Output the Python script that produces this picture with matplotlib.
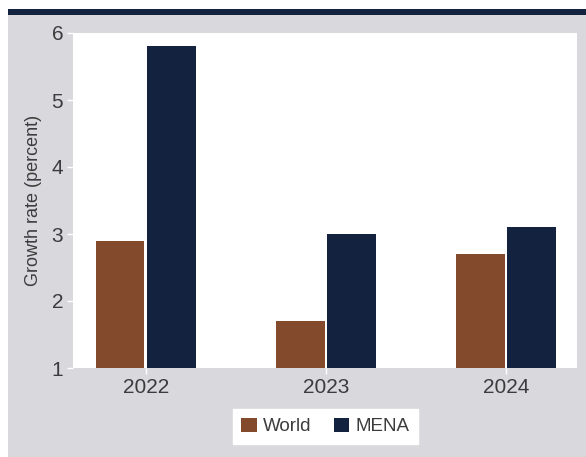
import matplotlib
matplotlib.use("Agg")
import matplotlib.pyplot as plt
from matplotlib.patches import Rectangle
import numpy as np

plt.rcParams['font.family'] = ['Liberation Sans', 'DejaVu Sans']

years = ["2022", "2023", "2024"]
world = [2.9, 1.7, 2.7]
mena = [5.8, 3.0, 3.1]
series_names = ["World", "MENA"]

BROWN = "#844a2c"
NAVY = "#12223f"
GRAY = "#d9d8dd"
TEXT = "#3c3c3c"

W, H = 586, 457
fig = plt.figure(figsize=(W / 100, H / 100), dpi=100, facecolor="white")

# panel background and top rule
fig.patches.append(Rectangle((8 / W, 0), 1 - 8 / W, (H - 15) / H,
                             transform=fig.transFigure, facecolor=GRAY,
                             edgecolor="none", zorder=-10))
fig.patches.append(Rectangle((8 / W, (H - 15) / H), 1 - 8 / W, 6 / H,
                             transform=fig.transFigure, facecolor=NAVY,
                             edgecolor="none", zorder=-10))

left, right, top, bottom = 73, 577, 33, 368
ax = fig.add_axes([left / W, 1 - bottom / H, (right - left) / W, (bottom - top) / H])
ax.set_zorder(1)
ax.set_facecolor("white")

x = np.arange(len(years))
off, wid = 0.142, 0.268
ax.bar(x - off, np.array(world) - 1, wid, bottom=1, color=BROWN, label=series_names[0])
ax.bar(x + off, np.array(mena) - 1, wid, bottom=1, color=NAVY, label=series_names[1])

ax.set_xlim(-0.405, 2.394)
ax.set_ylim(1, 6)
ax.set_yticks([1, 2, 3, 4, 5, 6])
ax.set_xticks(x)
ax.set_xticklabels(years)
for s in ax.spines.values():
    s.set_visible(False)
ax.tick_params(axis="both", colors="white", labelcolor=TEXT, labelsize=15,
               length=4, width=1)
ax.tick_params(axis="y", pad=3)
ax.tick_params(axis="x", pad=3)
ax.set_ylabel("Growth rate (percent)", fontsize=13, color=TEXT, labelpad=7)

leg = fig.legend(loc="center", bbox_to_anchor=(325 / W, 1 - 426.5 / H), ncol=2,
                 frameon=True, fancybox=False, fontsize=13.5, handlelength=0.85,
                 handleheight=0.85, handletextpad=0.3, columnspacing=1.2,
                 borderpad=0.45)
leg.set_zorder(2)
leg.get_frame().set_facecolor("white")
leg.get_frame().set_edgecolor("white")
leg.get_frame().set_alpha(1)
for t in leg.get_texts():
    t.set_color(TEXT)

fig.savefig("out.png", dpi=100, facecolor="white")
